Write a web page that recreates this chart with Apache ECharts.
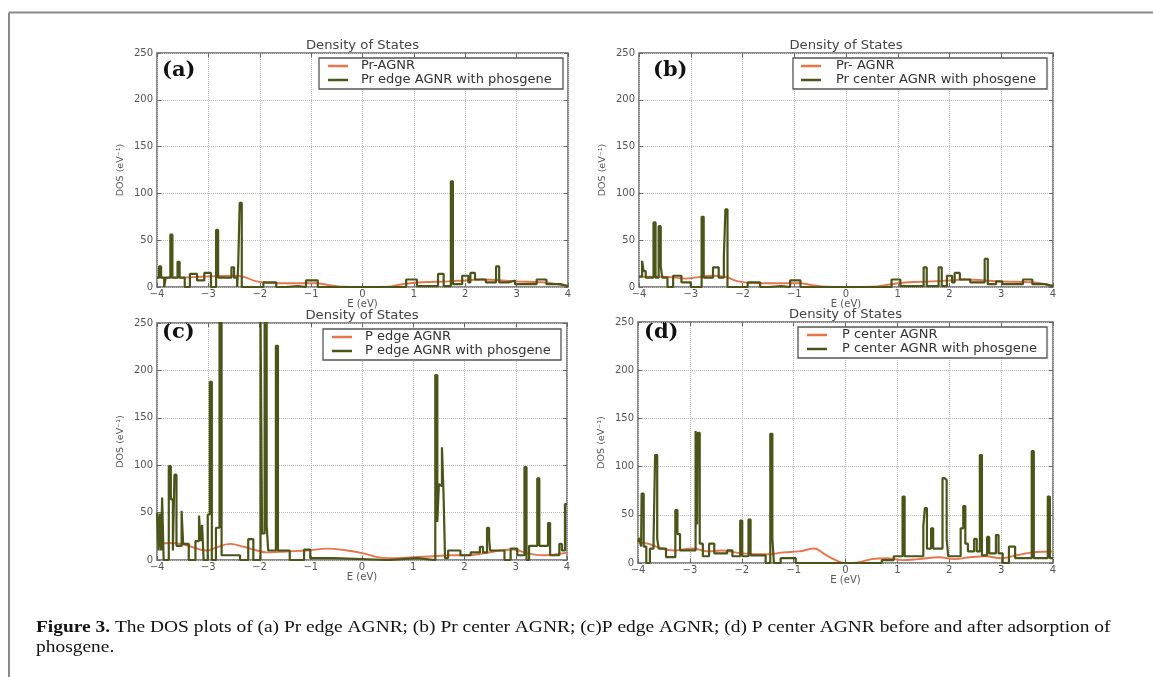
<!DOCTYPE html>
<html>
<head>
<meta charset="utf-8">
<script src="https://cdn.jsdelivr.net/npm/echarts@6/dist/echarts.min.js"></script>
<style>
html,body{margin:0;padding:0;background:#fff;}
#chart{width:1153px;height:677px;}
</style>
</head>
<body>
<div id="chart"></div>
<script>
// ---------- tick labels ----------
const xTicks = [-4, -3, -2, -1, 0, 1, 2, 3, 4];
const yTicks = [0, 50, 100, 150, 200, 250];

// ---------- series names ----------
const namesA = ['Pr-AGNR', 'Pr edge AGNR with phosgene'];
const namesB = ['Pr- AGNR', 'Pr center AGNR with phosgene'];
const namesC = ['P edge AGNR', 'P edge AGNR with phosgene'];
const namesD = ['P center AGNR', 'P center AGNR with phosgene'];
const panelLetters = ['(a)', '(b)', '(c)', '(d)'];

// ---------- (a) Pr edge AGNR ----------
const aPristine = [[-4,10],[-3.5,10],[-3.15,11],[-2.52,12],[-2.32,11],[-2.06,6],[-1.68,4],[-1.23,4],[-0.9,4],[-0.65,2],[-0.39,0.3],[0,0],[0.5,0.3],[0.77,3],[1.16,5],[1.68,6],[2.0,7],[2.32,8],[2.97,6],[3.48,5],[3.8,3],[4,1]];
const aPhosgene = [[-4,10],[-3.96,22],[-3.92,10],[-3.86,0],[-3.83,10],[-3.74,56],[-3.70,10],[-3.60,27],[-3.56,10],[-3.46,0],[-3.36,14],[-3.22,7],[-3.08,15],[-2.95,0],[-2.85,61],[-2.81,10],[-2.55,21],[-2.50,10],[-2.44,0],[-2.42,22],[-2.39,90],[-2.35,0],[-1.93,5],[-1.68,0],[-1.5,1],[-1.25,0],[-1.1,7],[-0.87,0],[0.85,8],[1.06,1],[1.47,14],[1.58,1],[1.72,113],[1.76,3],[1.94,12],[2.06,5],[2.1,15],[2.19,8],[2.4,5],[2.6,22],[2.66,5],[2.84,7],[2.97,3],[3.39,8],[3.58,3],[3.85,1],[4,1]];

// ---------- (b) Pr center AGNR ----------
const bPristine = [[-4,11],[-3.5,11],[-3.1,9],[-2.6,12],[-2.34,11],[-2.08,6],[-1.7,4],[-1.2,4],[-0.9,4],[-0.65,2],[-0.39,0.3],[0,0],[0.5,0.3],[0.88,3],[1.2,5],[1.66,6],[2.0,7],[2.3,8],[2.95,6],[3.6,5],[3.85,3],[4,1]];
const bPhosgene = [[-4,11],[-3.94,28],[-3.91,17],[-3.87,10],[-3.72,69],[-3.68,10],[-3.62,65],[-3.58,22],[-3.55,10],[-3.45,0],[-3.34,12],[-3.18,5],[-3.0,0],[-2.79,75],[-2.75,10],[-2.57,21],[-2.46,10],[-2.36,32],[-2.33,83],[-2.29,0],[-1.9,5],[-1.66,0],[-1.5,1],[-1.25,0],[-1.08,7],[-0.88,0],[0.88,8],[1.05,1],[1.5,21],[1.56,1],[1.79,21],[1.85,1],[1.95,12],[2.05,5],[2.1,15],[2.2,8],[2.4,5],[2.68,30],[2.74,3],[2.9,6],[3.02,3],[3.42,8],[3.6,3],[3.85,1],[4,1]];

// ---------- (c) P edge AGNR ----------
const cPristine = [[-4,17],[-3.68,18],[-3.39,15],[-3.03,10],[-2.9,12],[-2.57,17],[-2.31,14],[-2.05,10],[-1.86,8],[-1.47,9],[-1.07,10],[-0.68,12],[-0.29,10],[0.03,7],[0.3,3],[0.55,2],[1.01,3],[1.4,4],[1.73,5],[2.05,5],[2.38,7],[2.7,10],[2.96,11],[3.22,7],[3.55,5],[3.81,6],[4,8]];
const cPhosgene = [[-4,50],[-3.97,10],[-3.95,49],[-3.92,10],[-3.9,66],[-3.87,0],[-3.77,99],[-3.73,64],[-3.69,10],[-3.66,90],[-3.62,15],[-3.52,52],[-3.49,17],[-3.38,0],[-3.25,20],[-3.18,47],[-3.15,20],[-3.12,37],[-3.09,0],[-3.01,48],[-2.97,188],[-2.93,0],[-2.85,34],[-2.78,260],[-2.74,5],[-2.38,0],[-2.22,22],[-2.12,0],[-1.98,260],[-1.95,28],[-1.9,260],[-1.86,36],[-1.83,10],[-1.68,226],[-1.64,10],[-1.41,0],[-1.13,11],[-1.01,2],[-0.55,0],[0.52,2],[1.07,0],[1.43,195],[1.47,40],[1.5,80],[1.53,78],[1.56,119],[1.59,72],[1.62,2],[1.68,10],[1.92,5],[2.12,8],[2.3,14],[2.36,8],[2.44,34],[2.48,23],[2.5,10],[2.78,0],[2.9,12],[3.03,5],[3.17,98],[3.21,0],[3.26,15],[3.42,86],[3.46,15],[3.63,39],[3.67,5],[3.85,17],[3.9,10],[3.96,59],[4,59]];

// ---------- (d) P center AGNR ----------
const dPristine = [[-4,21],[-3.8,20],[-3.55,15],[-3.3,13],[-2.95,15],[-2.65,12],[-2.4,13],[-2.0,10],[-1.5,9],[-1.2,11],[-0.9,12],[-0.6,15],[-0.4,9],[-0.15,2],[0,0],[0.2,0.3],[0.5,4],[0.8,5],[1.1,3],[1.4,4],[1.8,6],[2.1,4],[2.4,6],[2.7,7],[3.0,5],[3.3,8],[3.6,11],[4,12]];
const dPhosgene = [[-4,22],[-3.97,26],[-3.94,17],[-3.93,72],[-3.89,17],[-3.84,0],[-3.77,15],[-3.7,25],[-3.67,112],[-3.63,25],[-3.6,15],[-3.46,6],[-3.28,55],[-3.24,30],[-3.19,13],[-2.89,137],[-2.86,40],[-2.85,135],[-2.81,20],[-2.75,7],[-2.63,20],[-2.53,10],[-2.28,13],[-2.18,7],[-2.03,44],[-1.99,7],[-1.87,45],[-1.83,8],[-1.54,0],[-1.45,134],[-1.41,25],[-1.38,0],[-1.25,5],[-0.96,0],[0.7,3],[0.93,7],[1.1,69],[1.14,7],[1.5,38],[1.53,57],[1.57,15],[1.65,36],[1.69,15],[1.87,88],[1.91,86],[1.95,25],[1.98,7],[2.22,36],[2.27,59],[2.31,20],[2.36,12],[2.48,25],[2.53,12],[2.59,112],[2.63,8],[2.73,27],[2.77,10],[2.9,29],[2.95,10],[3.03,0],[3.15,17],[3.27,5],[3.59,116],[3.63,5],[3.9,69],[3.94,5],[4,5]];

const caption1Bold = 'Figure 3.';
const caption1Rest = ' The DOS plots of (a) Pr edge AGNR; (b) Pr center AGNR; (c)P edge AGNR; (d) P center AGNR before and after adsorption of';
const caption2 = 'phosgene.';

// ---------- layout / style ----------
const ORANGE = '#e8744a';
const GREEN = '#4b5519';
const grids = [
  {left:157, top:53, width:411, height:234},
  {left:639, top:53, width:414, height:234},
  {left:157, top:323, width:410, height:237},
  {left:638, top:322, width:415, height:241}
];
const legendPos = [
  {left:319, top:58, tw:194, pl:9, tp:8},
  {left:793, top:58, tw:203, pl:8, tp:10},
  {left:323, top:329, tw:188, pl:9, tp:8},
  {left:798, top:327, tw:197, pl:9, tp:10}
];
const letterPos = [[162,71],[653,71],[162,333],[644,333]];
const titleY = [46, 46, 316, 315];

const pristine = [aPristine, bPristine, cPristine, dPristine];
const phos = [aPhosgene, bPhosgene, cPhosgene, dPhosgene];
const names = [namesA, namesB, namesC, namesD];

const fmtX = v => v < 0 ? '\u2212' + Math.abs(v) : String(v);
const tickStyle = {show:true, inside:true, length:4, lineStyle:{color:'#666'}};
const gridLine = {show:true, lineStyle:{type:'dotted', color:'#bbb', width:1}};
const noLine = {show:false, onZero:false};

const xAxes = [], yAxes = [];
grids.forEach((g, i) => {
  xAxes.push({
    type:'value', gridIndex:i, position:'bottom', min:xTicks[0], max:xTicks[xTicks.length-1], interval:1,
    name:'E (eV)', nameLocation:'middle', nameGap:12,
    nameTextStyle:{fontFamily:'DejaVu Sans', fontSize:10, color:'#555'},
    axisLine:noLine, axisTick:tickStyle,
    axisLabel:{margin:2, fontFamily:'DejaVu Sans', fontSize:10, color:'#555', formatter:fmtX},
    splitLine:gridLine
  });
  yAxes.push({
    type:'value', gridIndex:i, position:'left', min:yTicks[0], max:yTicks[yTicks.length-1], interval:50,
    name:'DOS (eV\u207B\u00B9)', nameLocation:'middle', nameGap:31,
    nameTextStyle:{fontFamily:'DejaVu Sans', fontSize:9.5, color:'#555'},
    axisLine:noLine, axisTick:tickStyle,
    axisLabel:{margin:4, fontFamily:'DejaVu Sans', fontSize:10, color:'#555'},
    splitLine:gridLine
  });
});
// matplotlib-style ticks on the top and right frame edges
grids.forEach((g, i) => {
  xAxes.push({type:'value', gridIndex:i, position:'top', min:xTicks[0], max:xTicks[xTicks.length-1], interval:1,
    axisLine:noLine, axisTick:tickStyle, axisLabel:{show:false}, splitLine:{show:false}});
  yAxes.push({type:'value', gridIndex:i, position:'right', min:yTicks[0], max:yTicks[yTicks.length-1], interval:50,
    axisLine:noLine, axisTick:tickStyle, axisLabel:{show:false}, splitLine:{show:false}});
});

const option = {
  backgroundColor: '#fff',
  animation: false,
  grid: grids.map(g => ({left:g.left, top:g.top, width:g.width, height:g.height, show:true, borderColor:'#666', borderWidth:1.5, backgroundColor:'transparent', containLabel:false})),
  xAxis: xAxes,
  yAxis: yAxes,
  legend: legendPos.map((p, i) => ({
    data: names[i], orient:'vertical', left:p.left, top:p.top,
    icon:'rect', itemWidth:20, itemHeight:2.5, itemGap:0,
    padding:[1, 8, 2, p.pl], borderColor:'#555', borderWidth:1.3, backgroundColor:'#fff',
    selectedMode:false,
    textStyle:{fontFamily:'DejaVu Sans', fontSize:13, color:'#333', lineHeight:14, width:p.tw, padding:[0,0,0,p.tp]}
  })),
  series: [],
  graphic: []
};

for (let i = 0; i < 4; i++) {
  option.series.push({
    name: names[i][0], type:'line', xAxisIndex:i, yAxisIndex:i, data: pristine[i],
    smooth: 0.4, showSymbol:false, symbol:'none', color: ORANGE,
    lineStyle:{width:1.9, color:ORANGE}, z:2
  });
  option.series.push({
    name: names[i][1], type:'line', xAxisIndex:i, yAxisIndex:i, data: phos[i],
    step:'end', showSymbol:false, symbol:'none', color: GREEN,
    lineStyle:{width:2.2, color:GREEN}, z:3, clip:true
  });
  const g = grids[i];
  option.graphic.push({
    type:'text', x: g.left + g.width/2, y: titleY[i], scaleX:1.1,
    style:{text:'Density of States', fontFamily:'DejaVu Sans', fontSize:12, fill:'#444', textAlign:'center', textVerticalAlign:'middle'}
  });
  option.graphic.push({
    type:'text', x: letterPos[i][0], y: letterPos[i][1],
    style:{text: panelLetters[i], fontFamily:'DejaVu Serif', fontWeight:'bold', fontSize:21, fill:'#111', textVerticalAlign:'middle'}
  });
}

// outer frame lines
option.graphic.push({type:'line', shape:{x1:9, y1:12.5, x2:1153, y2:12.5}, style:{stroke:'#8a8a8a', lineWidth:2}});
option.graphic.push({type:'line', shape:{x1:9, y1:12.5, x2:9, y2:677}, style:{stroke:'#8a8a8a', lineWidth:2}});
// caption
option.graphic.push({
  type:'text', x:36, y:628, scaleX:1.143,
  style:{
    text:'{b|' + caption1Bold + '}' + caption1Rest,
    rich:{b:{fontFamily:'Liberation Serif', fontWeight:'bold', fontSize:17, fill:'#111'}},
    fontFamily:'Liberation Serif', fontSize:17, fill:'#111', textVerticalAlign:'middle'
  }
});
option.graphic.push({
  type:'text', x:36, y:648, scaleX:1.143,
  style:{text: caption2, fontFamily:'Liberation Serif', fontSize:17, fill:'#111', textVerticalAlign:'middle'}
});

const chart = echarts.init(document.getElementById('chart'), null, {renderer:'canvas'});
chart.setOption(option);
</script>
</body>
</html>
